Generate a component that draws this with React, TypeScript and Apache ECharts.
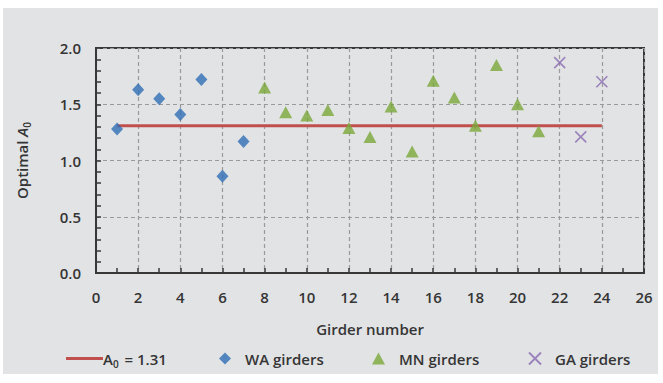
import React, { useEffect, useRef } from "react";
import * as echarts from "echarts";

// Girder numbers and optimal A0 values per state
const waGirders = [1, 2, 3, 4, 5, 6, 7];
const waA0 = [1.28, 1.63, 1.55, 1.41, 1.72, 0.86, 1.17];

const mnGirders = [8, 9, 10, 11, 12, 13, 14, 15, 16, 17, 18, 19, 20, 21];
const mnA0 = [1.65, 1.43, 1.4, 1.45, 1.29, 1.21, 1.48, 1.08, 1.71, 1.56, 1.31, 1.85, 1.5, 1.26];

const gaGirders = [22, 23, 24];
const gaA0 = [1.87, 1.21, 1.7];

// Mean A0 line spanning the girder range
const meanA0 = 1.31;
const meanSpan = [1, 24];

const seriesNames = {
  mean: "A0 = 1.31",
  wa: "WA girders",
  mn: "MN girders",
  ga: "GA girders",
};

const FONT = "Open Sans";
const FS = 15;
const FW = 600;
const TEXT = "#353535";
const AXIS = "#383838";
const crossPath = "path://M0,0L10,10M10,0L0,10";

export default function App() {
  const ref = useRef<HTMLDivElement>(null);

  useEffect(() => {
    if (!ref.current) return;
    const chart = echarts.init(ref.current, undefined, { renderer: "svg" });

    const pairs = (xs: number[], ys: number[]) => xs.map((x, i) => [x, ys[i]]);
    const txt = { fontFamily: FONT, fontSize: FS, fontWeight: FW, color: TEXT };
    const sub = { fontFamily: FONT, fontSize: 10, fontWeight: FW, color: TEXT };

    const legendBase = {
      top: 351,
      padding: 0,
      itemHeight: 12,
      textStyle: { ...txt },
      selectedMode: false,
    };

    chart.setOption({
      animation: false,
      backgroundColor: "transparent",
      textStyle: { fontFamily: FONT },
      grid: {
        left: 96,
        top: 48,
        width: 548,
        height: 225,
        show: true,
        borderColor: AXIS,
        borderWidth: 2,
        backgroundColor: "transparent",
      },
      xAxis: {
        type: "value",
        min: 0,
        max: 26,
        interval: 2,
        name: "Girder number",
        nameLocation: "middle",
        nameGap: 48,
        nameTextStyle: { ...txt },
        axisLine: { show: true, lineStyle: { color: AXIS, width: 2 } },
        axisTick: { show: true, inside: true, length: 5, lineStyle: { color: AXIS, width: 1.5 } },
        minorTick: { show: true, splitNumber: 2, length: 5, lineStyle: { color: AXIS, width: 1.5 } },
        axisLabel: { margin: 16, ...txt },
        splitLine: { show: true, lineStyle: { color: "#9a9a9a", type: [4, 3], width: 1.2 } },
      },
      yAxis: {
        type: "value",
        min: 0,
        max: 2,
        interval: 0.5,
        name: "{t|Optimal }{i|A}{s|0}",
        nameLocation: "middle",
        nameGap: 64,
        nameTextStyle: {
          ...txt,
          rich: {
            t: { ...txt },
            i: { ...txt, fontStyle: "italic" },
            s: { ...sub, padding: [11, 0, 0, 0] },
          },
        },
        axisLine: { show: true, lineStyle: { color: AXIS, width: 2 } },
        axisTick: { show: true, inside: true, length: 5, lineStyle: { color: AXIS, width: 1.5 } },
        minorTick: { show: true, splitNumber: 5, length: 5, lineStyle: { color: AXIS, width: 1.5 } },
        axisLabel: {
          margin: 15,
          ...txt,
          formatter: (v: number) => v.toFixed(1),
        },
        splitLine: { show: true, lineStyle: { color: "#9a9a9a", type: [4, 3], width: 1.2 } },
      },
      legend: [
        {
          ...legendBase,
          top: 351,
          left: 66,
          itemWidth: 37,
          itemHeight: 3,
          data: [{ name: seriesNames.mean, icon: "rect" }],
          formatter: () => "{a|A}{s|0}{a| = 1.31}",
          textStyle: {
            ...txt,
            padding: [0, 0, 0, -5],
            rich: {
              a: { ...txt },
              s: { ...sub, padding: [11, 2, 0, 0] },
            },
          },
        },
        {
          ...legendBase,
          left: 219,
          itemWidth: 12,
          data: [seriesNames.wa],
          textStyle: { ...txt, padding: [0, 0, 0, 9] },
        },
        {
          ...legendBase,
          left: 372,
          itemWidth: 13,
          data: [seriesNames.mn],
          textStyle: { ...txt, padding: [0, 0, 0, 9] },
        },
        {
          ...legendBase,
          left: 528,
          itemWidth: 12,
          data: [seriesNames.ga],
          textStyle: { ...txt, padding: [0, 0, 0, 9] },
        },
      ],
      series: [
        {
          name: seriesNames.mean,
          type: "line",
          data: meanSpan.map((x) => [x, meanA0]),
          symbol: "none",
          lineStyle: { color: "#c0504d", width: 3 },
          itemStyle: { color: "#c0504d" },
          z: 2,
        },
        {
          name: seriesNames.wa,
          type: "scatter",
          data: pairs(waGirders, waA0),
          symbol: "diamond",
          symbolSize: [12, 13],
          itemStyle: { color: "#2f6eb5" },
          z: 3,
        },
        {
          name: seriesNames.mn,
          type: "scatter",
          data: pairs(mnGirders, mnA0),
          symbol: "triangle",
          symbolSize: [13, 12],
          itemStyle: { color: "#7aa83a" },
          z: 3,
        },
        {
          name: seriesNames.ga,
          type: "scatter",
          data: pairs(gaGirders, gaA0),
          symbol: crossPath,
          symbolSize: 11,
          itemStyle: { color: "transparent", borderColor: "#8a6bb0", borderWidth: 1.6 },
          z: 3,
        },
      ],
    });

    return () => chart.dispose();
  }, []);

  return (
    <div style={{ position: "fixed", left: 0, top: 0, width: 663, height: 383, background: "#ffffff" }}>
      <div
        style={{ position: "absolute", left: 3, top: 8, width: 655, height: 366, background: "#e2e3e5" }}
      />
      <div ref={ref} style={{ position: "absolute", left: 0, top: 0, width: 663, height: 383 }} />
    </div>
  );
}
